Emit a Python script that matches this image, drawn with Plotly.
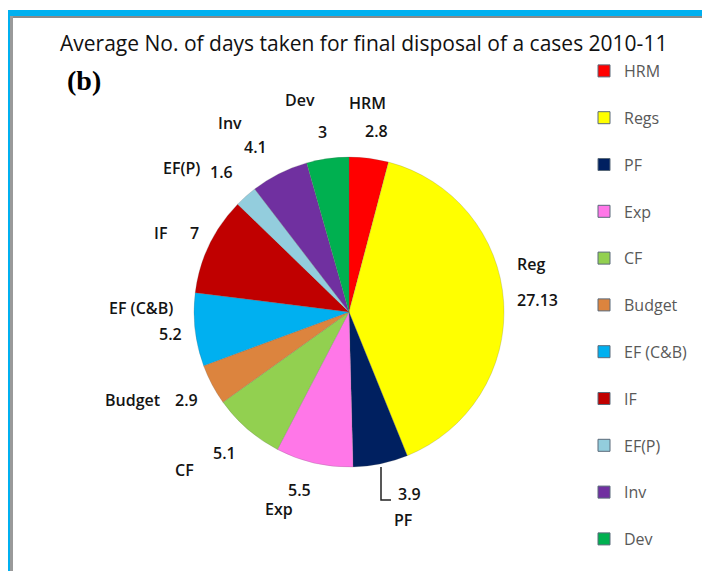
import plotly.graph_objects as go

W, H = 710, 571
OFF = 8  # page body margin offset

categories = ["HRM", "Regs", "PF", "Exp", "CF", "Budget", "EF (C&B)", "IF", "EF(P)", "Inv", "Dev"]
values = [2.8, 27.13, 3.9, 5.5, 5.1, 2.9, 5.2, 7, 1.6, 4.1, 3]
colors = ["#FF0000", "#FFFF00", "#002060", "#FF77E8", "#92D050", "#DC843E",
          "#00B0F0", "#C00000", "#93CDDD", "#7030A0", "#00B050"]
slice_labels = ["HRM", "Reg", "PF", "Exp", "CF", "Budget", "EF (C&B)", "IF", "EF(P)", "Inv", "Dev"]
value_texts = ["2.8", "27.13", "3.9", "5.5", "5.1", "2.9", "5.2", "7", "1.6", "4.1", "3"]

# label placements (pixel positions of text centres) - layout only
name_pos = [(367, 103), (531, 264), (403, 520), (279, 509), (184, 470), (133, 400),
            (141, 308), (160, 233), (181, 168), (230, 123), (300, 100)]
val_pos = [(376, 131), (537, 300), (409, 494), (299, 490), (224, 453), (186, 400),
           (170, 334), (194, 233), (221, 172), (256, 147), (322, 132)]

def px(x):
    return (x - OFF) / W

def py(y):
    return 1 - (y - OFF) / H

LABEL_FONT = dict(family="Open Sans", size=16, color="#141414", weight=600)

fig = go.Figure()

fig.add_trace(go.Pie(
    labels=categories, values=values, sort=False, direction="clockwise", rotation=0,
    marker=dict(colors=colors, line=dict(color="rgba(90,90,90,0.35)", width=0.6)),
    textinfo="none", hoverinfo="label+value", showlegend=False,
    domain=dict(x=[px(194), px(504)], y=[py(467), py(157)]),
))

# legend entries
for cat, col in zip(categories, colors):
    fig.add_trace(go.Scatter(
        x=[None], y=[None], mode="markers", name=cat, legendgroup=cat,
        marker=dict(symbol="square", size=12, color=col, line=dict(color="#5a6a7a", width=1)),
    ))

annotations = []
for t, (x, y) in zip(slice_labels, name_pos):
    annotations.append(dict(x=px(x), y=py(y), xref="paper", yref="paper", text=t,
                            showarrow=False, xanchor="center", yanchor="middle", font=LABEL_FONT))
for t, (x, y) in zip(value_texts, val_pos):
    annotations.append(dict(x=px(x), y=py(y), xref="paper", yref="paper", text=t,
                            showarrow=False, xanchor="center", yanchor="middle", font=LABEL_FONT))
annotations.append(dict(x=px(363), y=py(43), xref="paper", yref="paper",
                        text="Average No. of days taken for final disposal of a cases 2010-11",
                        showarrow=False, xanchor="center", yanchor="middle",
                        font=dict(family="Open Sans", size=21, color="#111111")))
annotations.append(dict(x=px(84), y=py(80), xref="paper", yref="paper", text="<b>(b)</b>",
                        showarrow=False, xanchor="center", yanchor="middle",
                        font=dict(family="Liberation Serif", size=28, color="#000000")))

shapes = [
    # blue frame
    dict(type="rect", xref="paper", yref="paper", x0=px(4), x1=px(720), y0=py(10), y1=py(16),
         fillcolor="#00B0F0", line=dict(width=0)),
    dict(type="rect", xref="paper", yref="paper", x0=px(4), x1=px(10), y0=py(10), y1=py(585),
         fillcolor="#00B0F0", line=dict(width=0)),
    dict(type="rect", xref="paper", yref="paper", x0=px(10), x1=px(720), y0=py(16), y1=py(18),
         fillcolor="#8a8a8a", line=dict(width=0)),
    dict(type="rect", xref="paper", yref="paper", x0=px(10), x1=px(13), y0=py(16), y1=py(585),
         fillcolor="#9a9a9a", line=dict(width=0)),
    # leader line for PF
    dict(type="path", xref="paper", yref="paper",
         path=f"M {px(381)} {py(467)} L {px(381)} {py(500)} L {px(391)} {py(500)}",
         line=dict(color="#222222", width=1.5)),
]

fig.update_layout(
    width=W, height=H, margin=dict(l=0, r=0, t=0, b=0),
    paper_bgcolor="white", plot_bgcolor="white",
    xaxis=dict(visible=False), yaxis=dict(visible=False),
    showlegend=True,
    legend=dict(x=px(584), y=py(54), xanchor="left", yanchor="top",
                tracegroupgap=23, font=dict(family="Open Sans", size=16, color="#595959"),
                bgcolor="rgba(0,0,0,0)", itemwidth=30),
    annotations=annotations, shapes=shapes,
)

fig.write_html("out.html")
